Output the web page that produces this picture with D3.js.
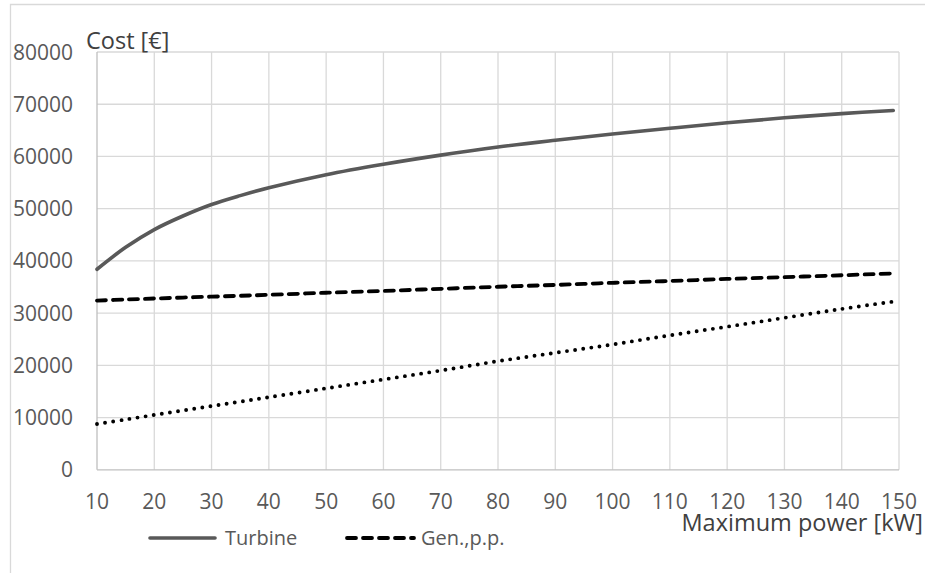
<!DOCTYPE html>
<html>
<head>
<meta charset="utf-8">
<script src="https://cdn.jsdelivr.net/npm/d3@7"></script>
<style>
  html, body { margin: 0; padding: 0; background: #fff; }
  svg { display: block; }
  text { font-family: "Open Sans", "Noto Sans", sans-serif; }
</style>
</head>
<body>
<svg id="chart" width="925" height="573"></svg>
<script>
// ---- data ----
const powerKW = [10, 15, 20, 25, 30, 35, 40, 50, 60, 70, 80, 90, 100, 110, 120, 130, 140, 149];
const turbineCost = [38400, 42600, 46000, 48600, 50800, 52500, 54000, 56500, 58500, 60250, 61800, 63100, 64300, 65400, 66450, 67400, 68200, 68800];
const generatorCost = [32400, 32600, 32800, 32980, 33150, 33320, 33500, 33900, 34250, 34650, 35050, 35400, 35800, 36150, 36550, 36900, 37250, 37600];
const otherCost = [8770, 9630, 10500, 11350, 12200, 13050, 13900, 15600, 17300, 19000, 20800, 22400, 24000, 25750, 27400, 29100, 30800, 32200];
const xTicks = [10, 20, 30, 40, 50, 60, 70, 80, 90, 100, 110, 120, 130, 140, 150];
const yTicks = [0, 10000, 20000, 30000, 40000, 50000, 60000, 70000, 80000];
const legendLabels = ["Turbine", "Gen.,p.p."];

const svg = d3.select("#chart");
const x = d3.scaleLinear().domain([10, 150]).range([97, 899]);
const y = d3.scaleLinear().domain([0, 80000]).range([469.8, 52]);

// outer frame
svg.append("path")
  .attr("d", "M10.5,580 L10.5,4.5 L930,4.5")
  .attr("fill", "none").attr("stroke", "#d9d9d9").attr("stroke-width", 1.3);

// grid
const grid = svg.append("g");
grid.selectAll("line.h").data(yTicks.filter(d => d > 0)).join("line")
  .attr("x1", x(10)).attr("x2", x(150))
  .attr("y1", d => y(d)).attr("y2", d => y(d))
  .attr("stroke", "#d9d9d9").attr("stroke-width", 1.3);
grid.selectAll("line.v").data(xTicks.filter(d => d > 10)).join("line")
  .attr("x1", d => x(d)).attr("x2", d => x(d))
  .attr("y1", y(80000)).attr("y2", y(0))
  .attr("stroke", "#d9d9d9").attr("stroke-width", 1.3);

// axes lines
svg.append("line").attr("x1", x(10)).attr("x2", x(10)).attr("y1", y(80000)).attr("y2", y(0))
  .attr("stroke", "#bfbfbf").attr("stroke-width", 1.3);
svg.append("line").attr("x1", x(10)).attr("x2", x(150)).attr("y1", y(0)).attr("y2", y(0))
  .attr("stroke", "#bfbfbf").attr("stroke-width", 1.3);

// tick labels
svg.append("g").selectAll("text").data(yTicks).join("text")
  .attr("x", 73).attr("y", d => y(d)).attr("dy", "0.36em")
  .attr("text-anchor", "end").attr("font-size", 21).attr("fill", "#595959")
  .text(d => d);
svg.append("g").selectAll("text").data(xTicks).join("text")
  .attr("x", d => x(d)).attr("y", 501).attr("dy", "0.36em")
  .attr("text-anchor", "middle").attr("font-size", 21).attr("fill", "#595959")
  .text(d => d);

// axis titles
svg.append("text").attr("x", 86).attr("y", 49).attr("font-size", 23.5).attr("fill", "#404040").text("Cost [€]");
svg.append("text").attr("x", 923).attr("y", 531).attr("text-anchor", "end")
  .attr("font-size", 23.5).attr("fill", "#404040").text("Maximum power [kW]");

// series
const mk = vals => d3.line().x((d, i) => x(powerKW[i])).y(d => y(d)).curve(d3.curveCatmullRom.alpha(0.5))(vals);
svg.append("path").attr("d", mk(otherCost)).attr("fill", "none")
  .attr("stroke", "#000").attr("stroke-width", 3.9).attr("stroke-linecap", "round")
  .attr("stroke-dasharray", "0,8.2");
svg.append("path").attr("d", mk(generatorCost)).attr("fill", "none")
  .attr("stroke", "#000").attr("stroke-width", 3.8).attr("stroke-linecap", "round")
  .attr("stroke-dasharray", "9,7");
svg.append("path").attr("d", mk(turbineCost)).attr("fill", "none")
  .attr("stroke", "#595959").attr("stroke-width", 3.6).attr("stroke-linecap", "round");

// legend
const lg = svg.append("g");
lg.append("line").attr("x1", 150).attr("x2", 215).attr("y1", 538).attr("y2", 538)
  .attr("stroke", "#595959").attr("stroke-width", 3.6).attr("stroke-linecap", "round");
lg.append("text").attr("x", 225).attr("y", 545).attr("font-size", 20).attr("fill", "#595959").text(legendLabels[0]);
lg.append("line").attr("x1", 347).attr("x2", 414).attr("y1", 538).attr("y2", 538)
  .attr("stroke", "#000").attr("stroke-width", 3.8).attr("stroke-linecap", "round")
  .attr("stroke-dasharray", "9,7");
lg.append("text").attr("x", 421).attr("y", 545).attr("font-size", 20).attr("fill", "#595959").text(legendLabels[1]);
</script>
</body>
</html>
